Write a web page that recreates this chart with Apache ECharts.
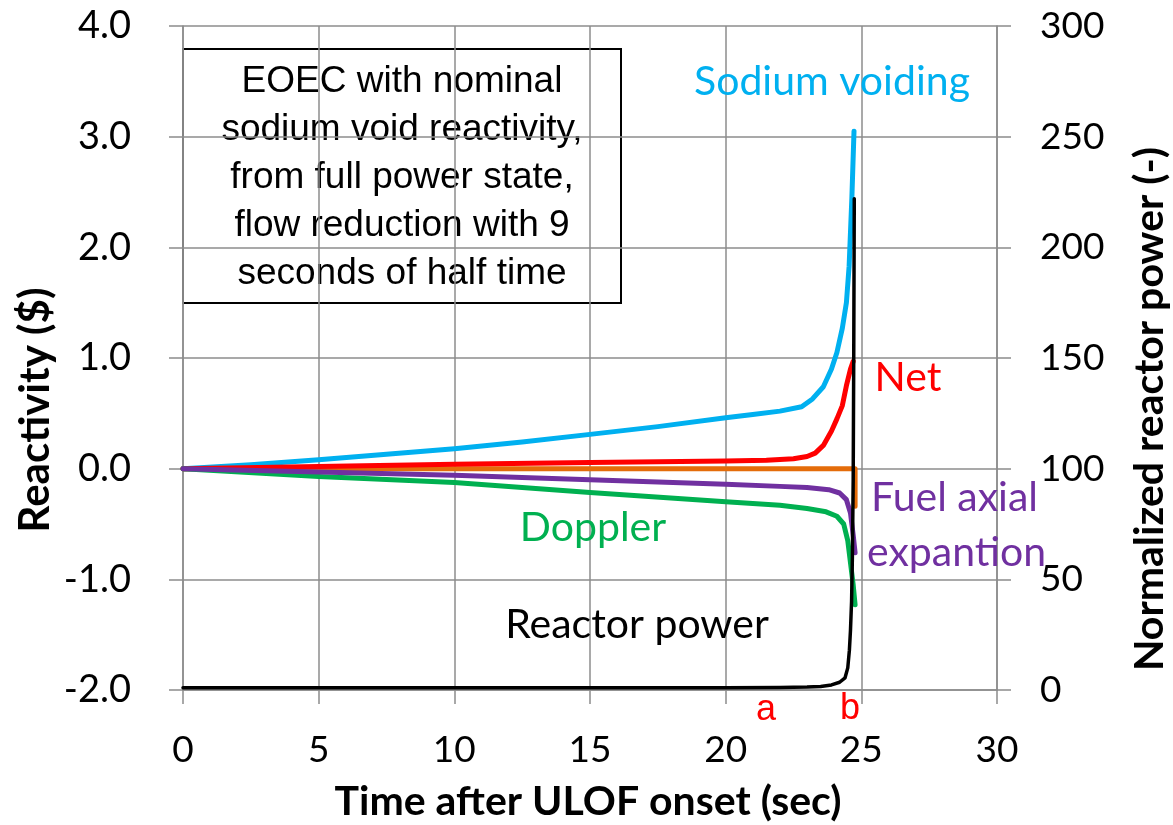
<!DOCTYPE html>
<html>
<head>
<meta charset="utf-8">
<script src="https://cdn.jsdelivr.net/npm/echarts@6/dist/echarts.min.js"></script>
<style>
  html, body { margin: 0; padding: 0; background: #ffffff; }
  #chart { width: 1173px; height: 825px; }
</style>
</head>
<body>
<div id="chart"></div>
<script>
// Reactivity components ($) and normalized power during the ULOF transient
const sodiumTime  = [0, 2.5, 5, 7.5, 10, 12.5, 15, 17.5, 20, 21, 22, 22.8, 23.2, 23.6, 23.9, 24.1, 24.3, 24.45, 24.55, 24.65, 24.73];
const sodiumValue = [0, 0.035, 0.08, 0.13, 0.18, 0.24, 0.31, 0.38, 0.46, 0.49, 0.52, 0.56, 0.63, 0.74, 0.9, 1.05, 1.27, 1.5, 1.83, 2.44, 3.05];

const netTime  = [0, 5, 10, 15, 20, 21.5, 22.5, 23, 23.3, 23.6, 23.9, 24.1, 24.3, 24.45, 24.6, 24.7];
const netValue = [0, 0.02, 0.04, 0.055, 0.07, 0.075, 0.09, 0.11, 0.14, 0.21, 0.34, 0.45, 0.57, 0.75, 0.9, 0.97];

const otherTime  = [0, 5, 10, 15, 20, 24.77, 24.77];
const otherValue = [0, 0, 0, 0, 0, 0, -0.34];

const axialTime  = [0, 5, 10, 15, 20, 22, 23, 23.8, 24.2, 24.45, 24.6, 24.7, 24.77];
const axialValue = [0, -0.03, -0.06, -0.1, -0.14, -0.16, -0.17, -0.19, -0.22, -0.28, -0.4, -0.6, -0.76];

const dopplerTime  = [0, 5, 10, 15, 20, 22, 23, 23.7, 24.1, 24.35, 24.5, 24.6, 24.7, 24.77];
const dopplerValue = [0, -0.07, -0.125, -0.215, -0.3, -0.33, -0.36, -0.39, -0.43, -0.5, -0.65, -0.85, -1.05, -1.23];

const powerTime  = [0, 5, 10, 15, 20, 22, 23, 23.5, 23.9, 24.2, 24.4, 24.5, 24.56, 24.6, 24.64, 24.67, 24.7, 24.72, 24.74];
const powerValue = [1, 1, 1, 1, 1, 1.1, 1.3, 1.6, 2.3, 3.5, 5.5, 10, 18, 27, 40, 60, 95, 150, 222];

const noteLines = [
  'EOEC with nominal',
  'sodium void reactivity,',
  'from full power state,',
  'flow reduction with 9',
  'seconds of half time'
];

const pairs = (ts, vs) => ts.map((t, i) => [t, vs[i]]);

const gridColor = '#8c8c8c';
const labelFont = 'Lato';

function lineSeries(name, ts, vs, color, width, yAxisIndex) {
  return {
    name: name,
    type: 'line',
    yAxisIndex: yAxisIndex || 0,
    data: pairs(ts, vs),
    showSymbol: false,
    smooth: false,
    lineStyle: { color: color, width: width, cap: 'round', join: 'round' },
    itemStyle: { color: color },
    silent: true,
    animation: false
  };
}

const chart = echarts.init(document.getElementById('chart'), null, { renderer: 'canvas' });

chart.setOption({
  backgroundColor: '#ffffff',
  animation: false,
  grid: { left: 183, right: 176, top: 26, bottom: 135, containLabel: false },
  xAxis: {
    type: 'value',
    min: 0, max: 30, interval: 5,
    axisLine: { show: true, onZero: false, lineStyle: { color: gridColor, width: 1.5 } },
    axisTick: { show: true, inside: false, length: 14, lineStyle: { color: gridColor, width: 1.5 } },
    axisLabel: { margin: 42, color: '#000', fontFamily: labelFont, fontSize: 37 },
    splitLine: { show: true, lineStyle: { color: gridColor, width: 1.5 } }
  },
  yAxis: [
    {
      type: 'value',
      min: -2, max: 4, interval: 1,
      axisLine: { show: true, onZero: false, lineStyle: { color: gridColor, width: 1.5 } },
      axisTick: { show: true, inside: false, length: 14, lineStyle: { color: gridColor, width: 1.5 } },
      axisLabel: { margin: 52, color: '#000', fontFamily: labelFont, fontSize: 38,
                   formatter: v => v.toFixed(1) },
      splitLine: { show: true, lineStyle: { color: gridColor, width: 1.5 } }
    },
    {
      type: 'value',
      position: 'right',
      min: 0, max: 300, interval: 50,
      axisLine: { show: true, onZero: false, lineStyle: { color: gridColor, width: 1.5 } },
      axisTick: { show: true, inside: false, length: 14, lineStyle: { color: gridColor, width: 1.5 } },
      axisLabel: { margin: 43, color: '#000', fontFamily: labelFont, fontSize: 37 },
      splitLine: { show: false }
    }
  ],
  series: [
    lineSeries('Sodium voiding', sodiumTime, sodiumValue, '#00B0F0', 5),
    lineSeries('Other', otherTime, otherValue, '#E46C0A', 5),
    lineSeries('Net', netTime, netValue, '#FF0000', 5),
    lineSeries('Doppler', dopplerTime, dopplerValue, '#00B050', 5),
    lineSeries('Fuel axial expantion', axialTime, axialValue, '#7030A0', 5),
    lineSeries('Reactor power', powerTime, powerValue, '#000000', 3.5, 1)
  ],
  graphic: [
    {
      type: 'group',
      z: 50,
      children: [
        { type: 'rect', shape: { x: 183, y: 49, width: 438, height: 254 },
          style: { fill: '#ffffff', stroke: '#000000', lineWidth: 2 } },
        { type: 'text', x: 402, y: 178,
          style: { text: noteLines.join('\n'), fill: '#000', font: '37px "Liberation Sans", Arial, sans-serif',
                   align: 'center', verticalAlign: 'middle', lineHeight: 48 } }
      ]
    },
    { type: 'text', x: 832, y: 82, z: 50,
      style: { text: 'Sodium voiding', fill: '#00B0F0', font: '41px Lato', align: 'center', verticalAlign: 'middle' } },
    { type: 'text', x: 908, y: 378, z: 50,
      style: { text: 'Net', fill: '#FF0000', font: '41px Lato', align: 'center', verticalAlign: 'middle' } },
    { type: 'text', x: 871, y: 498, z: 50,
      style: { text: 'Fuel axial', fill: '#7030A0', font: '41px Lato', align: 'left', verticalAlign: 'middle' } },
    { type: 'text', x: 867, y: 553, z: 50,
      style: { text: 'expantion', fill: '#7030A0', font: '41px Lato', align: 'left', verticalAlign: 'middle' } },
    { type: 'text', x: 593, y: 528, z: 50,
      style: { text: 'Doppler', fill: '#00B050', font: '41px Lato', align: 'center', verticalAlign: 'middle' } },
    { type: 'text', x: 637, y: 625, z: 50,
      style: { text: 'Reactor power', fill: '#000000', font: '41px Lato', align: 'center', verticalAlign: 'middle' } },
    { type: 'text', x: 766, y: 710, z: 50,
      style: { text: 'a', fill: '#FF0000', font: '36px "Liberation Sans", Arial, sans-serif', align: 'center', verticalAlign: 'middle' } },
    { type: 'text', x: 850, y: 709, z: 50,
      style: { text: 'b', fill: '#FF0000', font: '36px "Liberation Sans", Arial, sans-serif', align: 'center', verticalAlign: 'middle' } },
    { type: 'text', x: 588, y: 802, z: 50,
      style: { text: 'Time after ULOF onset (sec)', fill: '#000', font: 'bold 41px Lato', align: 'center', verticalAlign: 'middle' } },
    { type: 'text', x: 35, y: 410, z: 50, rotation: Math.PI / 2,
      style: { text: 'Reactivity ($)', fill: '#000', font: 'bold 42px Lato', align: 'center', verticalAlign: 'middle' } },
    { type: 'text', x: 1150, y: 409, z: 50, rotation: Math.PI / 2,
      style: { text: 'Normalized reactor power (-)', fill: '#000', font: 'bold 41px Lato', align: 'center', verticalAlign: 'middle' } }
  ]
});
</script>
</body>
</html>
